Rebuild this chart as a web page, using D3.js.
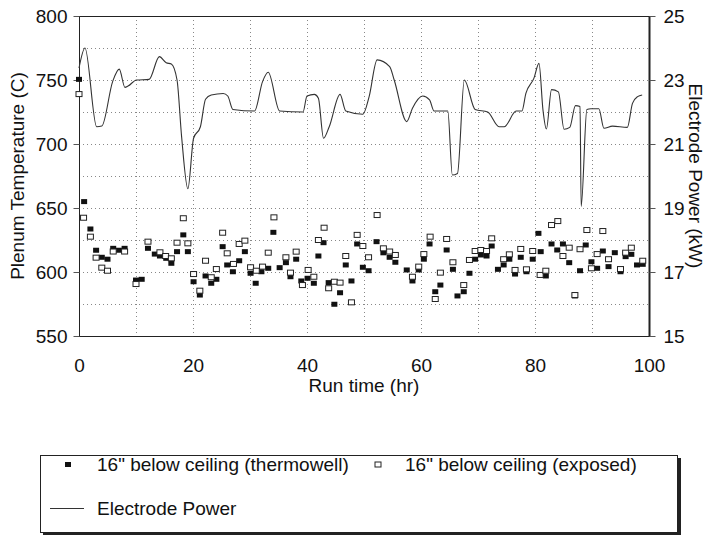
<!DOCTYPE html>
<html>
<head>
<meta charset="utf-8">
<script src="https://cdn.jsdelivr.net/npm/d3@7"></script>
<style>
  body { margin: 0; background: #fff; }
  svg text { font-family: "Liberation Sans", Arial, sans-serif; fill: #111; }
</style>
</head>
<body>
<div id="chart"></div>
<script>
// thermowell readings (filled squares)
var wellHours = [0, 0.9, 2, 3, 4, 5, 6, 7, 8, 10, 11, 12.1, 13.3, 14.2, 15.3, 16.2, 17.2, 18.3, 19.1, 20.1,
  21.2, 22.2, 23.2, 24.1, 25.2, 26, 27, 28.1, 29.1, 30.1, 31, 32, 33.2, 34.1, 35.2, 36.3, 37.1, 38.1, 39, 40.1,
  41.2, 42, 42.9, 43.8, 44.8, 45.8, 46.8, 47.8, 48.8, 49.8, 50.8, 52.2, 53.4, 54.5, 55.5, 57.5, 58.5, 59.6, 60.5, 61.5,
  62.5, 63.4, 64.5, 65.6, 66.4, 67.5, 68.5, 69.5, 70.5, 71.5, 72.4, 73.5, 74.5, 75.5, 76.5, 77.5, 78.5, 79.6, 80.6, 81,
  81.9, 82.9, 83.9, 84.9, 86, 87, 87.9, 88.9, 89.9, 90.9, 91.9, 92.9, 94, 95, 95.9, 96.9, 97.9, 98.9];
var wellTemps = [750.5, 655, 633.6, 617, 611.5, 610, 618.5, 617, 618.5, 593.7, 594.3, 618.5, 614, 612.5, 610.7, 606.8, 615.9, 629, 615.9, 592.4,
  582, 596.9, 591.2, 594.3, 619.8, 605.5, 600.2, 608.8, 615.9, 599, 591.2, 600.2, 602.9, 631, 603.4, 607.3, 596.3, 610, 593, 595.1,
  591.2, 612.5, 622.9, 591.7, 574.8, 583.8, 605.5, 593, 621.9, 603.7, 601, 623.7, 615, 611.5, 607.6, 601.6, 593, 601.6, 610, 621.9,
  584.6, 589.8, 617.2, 602.1, 581.3, 584.6, 599, 610, 613.3, 612.5, 620.3, 602.1, 605.5, 610, 598.4, 611.5, 600.2, 610, 630.2, 615.9,
  596.9, 621.9, 617.2, 621.9, 607.3, 581.3, 601, 621.1, 608, 602.9, 616.4, 604.2, 615.1, 600.2, 612, 613.8, 605.5, 606];

// exposed readings (open squares)
var exposedHours = [0, 0.8, 2, 3, 4, 5, 6, 8, 10, 12.1, 14.2, 15.2, 16.2, 17.2, 18.3, 19.1, 20.1, 21.2, 22.2, 23.2,
  24.1, 25.2, 26, 27.1, 28.1, 29.1, 30.1, 31.1, 32.2, 33.2, 34.2, 36.3, 37.1, 38.1, 39.2, 40.2, 41.2, 42, 43, 43.8,
  44.8, 45.8, 46.8, 47.8, 48.8, 49.8, 50.8, 52.3, 53.4, 54.5, 55.5, 58.5, 59.6, 60.5, 61.6, 62.5, 63.4, 64.5, 65.6, 67.5,
  68.5, 69.5, 70.5, 71.5, 72.4, 74.5, 75.5, 76.5, 77.5, 78.5, 79.6, 80.9, 81.9, 82.9, 84, 84.9, 86, 87, 87.9, 89.1,
  89.9, 90.9, 91.9, 92.9, 95, 95.9, 96.9, 98.9];
var exposedTemps = [739, 642.4, 627.6, 611.2, 603.4, 601, 616, 616, 590.6, 623.7, 615.4, 612.5, 610.7, 622.9, 642, 622.4, 598.4, 585.4, 608.8, 595.9,
  602.3, 630.7, 614.6, 606.3, 621.9, 624.5, 603.7, 601, 604.2, 615.1, 642.7, 611.5, 599.5, 615.9, 589.8, 601.6, 596.3, 625, 634.6, 587.3,
  592.4, 591.7, 612.5, 576.3, 629, 620.3, 611.5, 644.5, 618.5, 616, 613.3, 596.3, 604.2, 614, 627.6, 578.9, 599.5, 625.8, 607.6, 589.8,
  609.4, 616.4, 617.2, 616.4, 626.3, 610, 613.8, 601.6, 618, 602.1, 616.4, 597.7, 601, 636.7, 639.8, 612.5, 619, 582, 617.8, 632.8,
  602.9, 614, 632, 610, 602.3, 615.1, 619, 608.8];

// electrode power trace (kW, right axis)
var powerHours = [0, 1.05, 3.1, 4, 5.9, 7.06, 8.06, 8.6, 10.1, 12.3, 14.1, 15.3, 16.2, 17.2, 18, 19.1, 20.1, 21.3, 22.2, 23.2,
  25.3, 26.1, 27, 30.8, 32.2, 33.2, 35.2, 39.3, 40, 41.3, 42, 42.9, 43.9, 45.8, 46.8, 49.8, 50.9, 52.3, 54.5, 55.3,
  57.5, 58.5, 60.3, 61.5, 62.3, 64.7, 65.5, 66.4, 67.6, 69.5, 71.7, 73.7, 74.6, 76.7, 77.7, 78.4, 79.8, 80.7, 81.4, 82,
  82.9, 84.1, 85.1, 86.1, 87.1, 87.9, 88.1, 89.1, 89.8, 91.2, 92.1, 93.6, 96.2, 97.1, 98, 98.8];
var powerKW = [23.37, 24.0, 21.54, 21.56, 22.95, 23.34, 22.77, 22.81, 23.0, 23.02, 23.73, 23.54, 23.5, 23.0, 21.23, 19.6, 21.18, 21.54, 22.4, 22.53,
  22.58, 22.5, 22.08, 22.03, 22.95, 23.24, 22.03, 22.0, 22.5, 22.55, 22.43, 21.18, 21.54, 22.55, 22.03, 21.93, 22.48, 23.63, 23.42, 23.0,
  21.7, 22.12, 22.5, 22.38, 22.03, 22.03, 20.03, 20.08, 23.0, 22.08, 22.0, 21.54, 21.54, 22.03, 22.03, 22.58, 23.05, 23.52, 22.06, 21.47,
  22.7, 22.63, 21.46, 21.52, 22.2, 22.17, 19.05, 22.08, 22.1, 22.1, 21.49, 21.56, 21.52, 22.27, 22.48, 22.53];

var hourTicks = [0, 20, 40, 60, 80, 100];
var tempTicks = [550, 600, 650, 700, 750, 800];
var powerTicks = [15, 17, 19, 21, 23, 25];

var legendLabels = ['16" below ceiling (thermowell)', '16" below ceiling (exposed)', 'Electrode Power'];

function drawChart() {
  var width = 709, height = 536;
  var plotLeft = 79, plotRight = 649, plotTop = 16, plotBottom = 336;

  var svg = d3.select('#chart').append('svg')
    .attr('width', width)
    .attr('height', height);

  svg.append('rect').attr('width', width).attr('height', height).attr('fill', '#fff');

  var x = d3.scaleLinear().domain([0, 100]).range([plotLeft, plotRight]);
  var yT = d3.scaleLinear().domain([550, 800]).range([plotBottom, plotTop]);
  var yP = d3.scaleLinear().domain([15, 25]).range([plotBottom, plotTop]);

  // dotted grid, every kW and every 10 hr
  var grid = svg.append('g').attr('stroke', '#888').attr('stroke-dasharray', '1,3').attr('stroke-width', 1);
  grid.selectAll('line.h')
    .data(d3.range(16, 25, 1))
    .enter().append('line')
    .attr('x1', plotLeft).attr('x2', plotRight)
    .attr('y1', function(d) { return Math.round(yP(d)) + 0.5; })
    .attr('y2', function(d) { return Math.round(yP(d)) + 0.5; });
  grid.selectAll('line.v')
    .data(d3.range(10, 100, 10))
    .enter().append('line')
    .attr('y1', plotTop).attr('y2', plotBottom)
    .attr('x1', function(d) { return Math.round(x(d)) + 0.5; })
    .attr('x2', function(d) { return Math.round(x(d)) + 0.5; });

  // plot frame
  svg.append('rect')
    .attr('x', plotLeft + 0.5).attr('y', plotTop + 0.5)
    .attr('width', plotRight - plotLeft).attr('height', plotBottom - plotTop)
    .attr('fill', 'none').attr('stroke', '#222').attr('stroke-width', 1);
  svg.append('line')
    .attr('x1', plotRight + 0.5).attr('x2', plotRight + 0.5).attr('y1', plotTop).attr('y2', plotBottom)
    .attr('stroke', '#222').attr('stroke-width', 2);

  var axisFont = '19px';

  var leftAxis = svg.append('g')
    .attr('transform', 'translate(' + (plotLeft + 0.5) + ',0)')
    .call(d3.axisLeft(yT).tickValues(tempTicks).tickSize(6).tickPadding(6));
  var rightAxis = svg.append('g')
    .attr('transform', 'translate(' + (plotRight + 0.5) + ',0)')
    .call(d3.axisRight(yP).tickValues(powerTicks).tickSize(6).tickPadding(8));
  var bottomAxis = svg.append('g')
    .attr('transform', 'translate(0,' + (plotBottom + 0.5) + ')')
    .call(d3.axisBottom(x).tickValues(hourTicks).tickSize(0).tickPadding(22));

  [leftAxis, rightAxis, bottomAxis].forEach(function(a) {
    a.select('.domain').remove();
    a.selectAll('.tick line').attr('stroke', '#555');
    a.selectAll('.tick text').style('font-size', axisFont).attr('fill', '#111');
  });

  // axis titles
  svg.append('text')
    .attr('transform', 'translate(24,' + ((plotTop + plotBottom) / 2) + ') rotate(-90)')
    .attr('text-anchor', 'middle')
    .style('font-size', axisFont)
    .text('Plenum Temperature (C)');
  svg.append('text')
    .attr('transform', 'translate(689,' + ((plotTop + plotBottom) / 2) + ') rotate(90)')
    .attr('text-anchor', 'middle')
    .style('font-size', axisFont)
    .text('Electrode Power (kW)');
  svg.append('text')
    .attr('x', x(50)).attr('y', 392)
    .attr('text-anchor', 'middle')
    .style('font-size', axisFont)
    .text('Run time (hr)');

  // temperature markers
  var wellData = wellHours.map(function(h, i) { return { h: h, v: wellTemps[i] }; });
  var exposedData = exposedHours.map(function(h, i) { return { h: h, v: exposedTemps[i] }; });

  svg.append('g').selectAll('rect')
    .data(wellData)
    .enter().append('rect')
    .attr('x', function(d) { return x(d.h) - 3; })
    .attr('y', function(d) { return yT(d.v) - 2.5; })
    .attr('width', 6).attr('height', 5)
    .attr('fill', '#111');

  svg.append('g').selectAll('rect')
    .data(exposedData)
    .enter().append('rect')
    .attr('x', function(d) { return x(d.h) - 3; })
    .attr('y', function(d) { return yT(d.v) - 2.5; })
    .attr('width', 6).attr('height', 5)
    .attr('fill', '#fff').attr('stroke', '#222').attr('stroke-width', 1);

  // power line
  var powerData = powerHours.map(function(h, i) { return { h: h, v: powerKW[i] }; });
  var line = d3.line()
    .curve(d3.curveMonotoneX)
    .x(function(d) { return x(d.h); })
    .y(function(d) { return yP(d.v); });
  svg.append('path')
    .datum(powerData)
    .attr('d', line)
    .attr('fill', 'none')
    .attr('stroke', '#333')
    .attr('stroke-width', 1.1);

  // legend box with shadow
  var lg = svg.append('g');
  lg.append('rect').attr('x', 43).attr('y', 458).attr('width', 638).attr('height', 77).attr('fill', '#222');
  lg.append('rect').attr('x', 40.5).attr('y', 455.5).attr('width', 637).attr('height', 77)
    .attr('fill', '#fff').attr('stroke', '#222').attr('stroke-width', 1);

  lg.append('rect').attr('x', 65).attr('y', 462).attr('width', 6).attr('height', 5).attr('fill', '#111');
  lg.append('text').attr('x', 97).attr('y', 471).style('font-size', axisFont).text(legendLabels[0]);
  lg.append('rect').attr('x', 375).attr('y', 462).attr('width', 6).attr('height', 5)
    .attr('fill', '#fff').attr('stroke', '#222').attr('stroke-width', 1);
  lg.append('text').attr('x', 405).attr('y', 471).style('font-size', axisFont).text(legendLabels[1]);
  lg.append('line').attr('x1', 50).attr('x2', 84).attr('y1', 508.5).attr('y2', 508.5)
    .attr('stroke', '#333').attr('stroke-width', 1.1);
  lg.append('text').attr('x', 97).attr('y', 515).style('font-size', axisFont).text(legendLabels[2]);
}

drawChart();
</script>
</body>
</html>
